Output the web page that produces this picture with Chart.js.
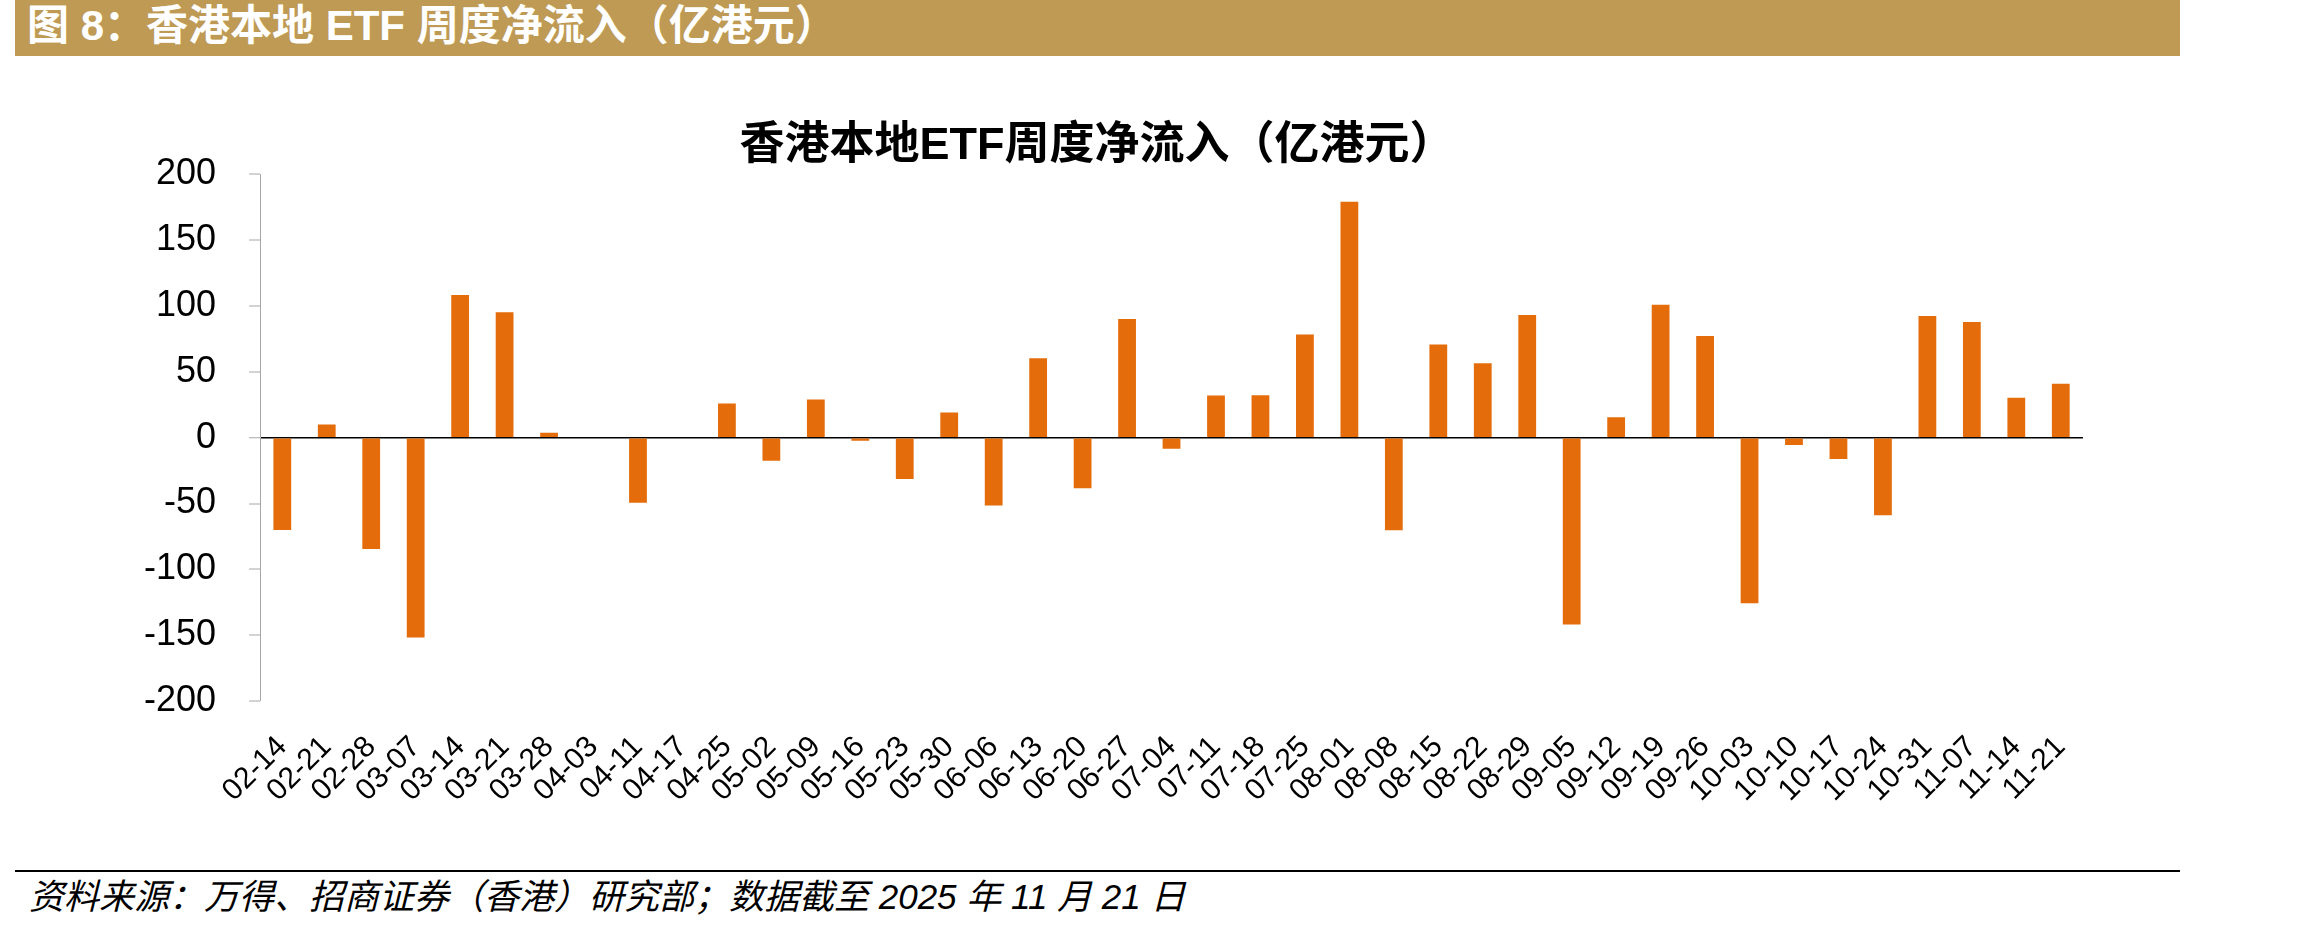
<!DOCTYPE html>
<html>
<head>
<meta charset="utf-8">
<script src="https://cdn.jsdelivr.net/npm/chart.js@4.4.0/dist/chart.umd.min.js"></script>
<style>
  body { margin: 0; width: 2306px; height: 932px; background: #fff; position: relative; overflow: hidden; }
  #banner { position: absolute; left: 15px; top: 0; width: 2165px; height: 56px; background: #BE9A55; }
  #banner span { position: absolute; left: 12px; top: 0; color: #fff; font: bold 42px 'Liberation Sans', 'Noto Sans CJK SC'; line-height: 52px; white-space: nowrap; }
  #wrap { position: absolute; left: 0; top: 60px; width: 2170px; height: 800px; }
  #rule { position: absolute; left: 15px; top: 870px; width: 2165px; height: 2px; background: #000; }
  #source { position: absolute; left: 29px; top: 876px; font: italic 35px 'Liberation Sans', 'Noto Sans CJK SC'; line-height: 42px; white-space: nowrap; color: #000; }
</style>
</head>
<body>
<div id="banner"><span>图 8：香港本地 ETF 周度净流入（亿港元）</span></div>
<div id="wrap"><canvas id="graph" width="2170" height="800"></canvas></div>
<div id="rule"></div>
<div id="source">资料来源：万得、招商证券（香港）研究部；数据截至 2025 年 11 月 21 日</div>
<script>
// weekly net inflow of HK local ETFs, 100m HKD
var weeks = ['02-14', '02-21', '02-28', '03-07', '03-14', '03-21', '03-28', '04-03', '04-11', '04-17',
  '04-25', '05-02', '05-09', '05-16', '05-23', '05-30', '06-06', '06-13', '06-20', '06-27',
  '07-04', '07-11', '07-18', '07-25', '08-01', '08-08', '08-15', '08-22', '08-29', '09-05',
  '09-12', '09-19', '09-26', '10-03', '10-10', '10-17', '10-24', '10-31', '11-07', '11-14', '11-21'];

var netFlow = [-70, 10, -84.4, -151.6, 108.2, 95.1, 3.8, 0, -49.4, 0,
  25.9, -17.5, 28.9, -2.3, -31.4, 19, -51.5, 60.3, -38.3, 90,
  -8.4, 31.9, 32.2, 78.3, 179, -70.2, 70.7, 56.5, 93, -141.7,
  15.5, 100.9, 77.1, -125.7, -5.6, -16.2, -58.8, 92.3, 87.7, 30.2, 40.8];

var yTicks = [-200, -150, -100, -50, 0, 50, 100, 150, 200];

var chartTitle = '香港本地ETF周度净流入（亿港元）';

document.addEventListener('DOMContentLoaded', () => {
  var graph = document.getElementById('graph').getContext('2d');

  var myChart = new Chart(graph, {
    type: 'bar',
    data: {
      labels: weeks,
      datasets: [{
        label: '净流入',
        data: netFlow,
        backgroundColor: '#E46C0A',
        barPercentage: 0.4,
        categoryPercentage: 1
      }]
    },
    options: {
      responsive: false,
      animation: false,
      layout: {
        padding: { left: 111, right: 87, top: 0, bottom: 31 }
      },
      plugins: {
        legend: { display: false },
        tooltip: { enabled: false },
        title: {
          display: true,
          text: chartTitle,
          color: '#000',
          font: { family: "'Liberation Sans', 'Noto Sans CJK SC'", size: 45, weight: 'bold' },
          padding: { top: 60, bottom: 0 }
        }
      },
      scales: {
        x: {
          grid: { display: false },
          border: { display: false },
          ticks: {
            autoSkip: false,
            minRotation: 45,
            maxRotation: 45,
            color: '#000',
            padding: 20,
            font: { family: 'Liberation Sans', size: 30 }
          }
        },
        y: {
          min: yTicks[0],
          max: yTicks[yTicks.length - 1],
          afterBuildTicks: (scale) => {
            scale.ticks = yTicks.map(v => ({ value: v }));
          },
          grid: {
            color: (c) => (c.tick && c.tick.value === 0 ? '#000' : 'rgba(0, 0, 0, 0)'),
            lineWidth: (c) => (c.tick && c.tick.value === 0 ? 1.5 : 0),
            tickColor: '#A6A6A6',
            tickWidth: 1,
            tickLength: 11
          },
          border: { color: '#A6A6A6', width: 1 },
          ticks: {
            color: '#000',
            padding: 33,
            font: { family: 'Liberation Sans', size: 36 }
          }
        }
      }
    }
  });
});
</script>
</body>
</html>
